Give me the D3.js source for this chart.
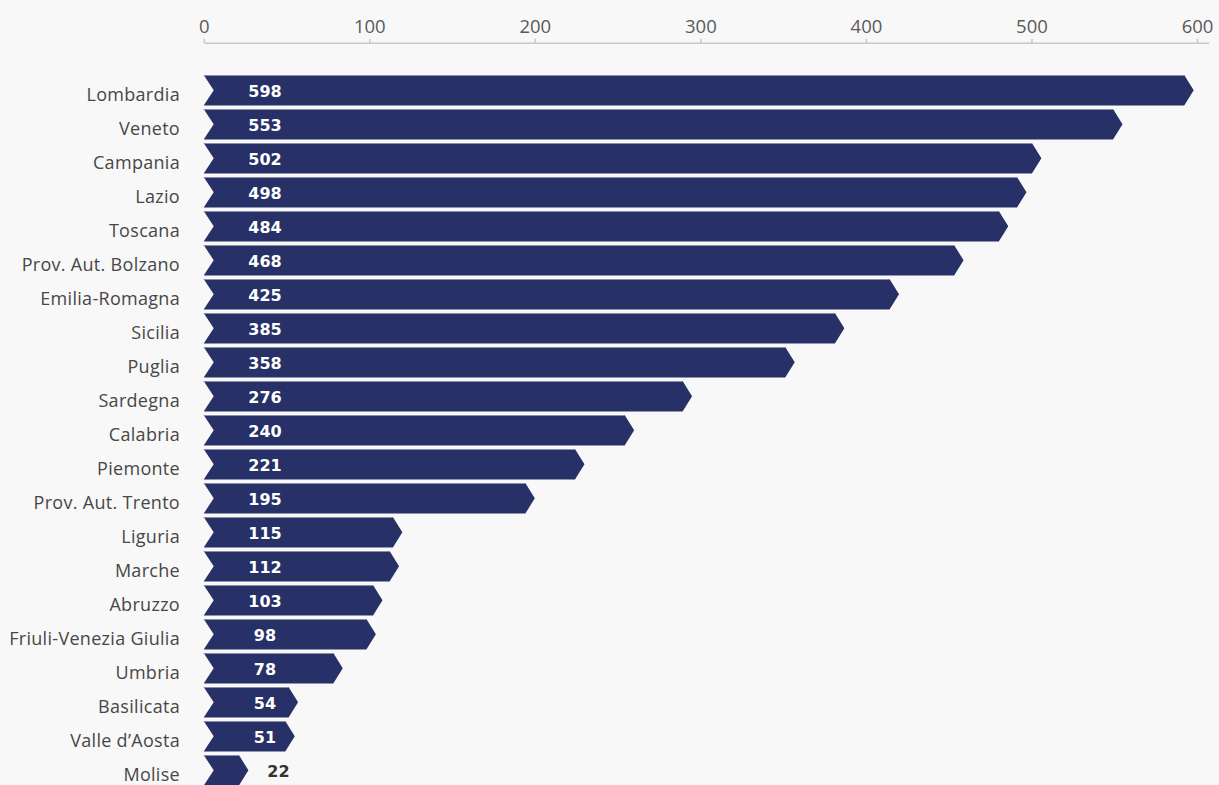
<!DOCTYPE html>
<html>
<head>
<meta charset="utf-8">
<script src="https://cdn.jsdelivr.net/npm/d3@7"></script>
<style>
  html, body { margin: 0; padding: 0; background: #f8f8f8; }
  svg { display: block; }
  .cat { font-family: "Open Sans", Lato, sans-serif; font-size: 18px; letter-spacing: 0.3px; fill: #474747; }
  .val { font-family: "DejaVu Sans", sans-serif; font-size: 16px; font-weight: bold; }
  .axis text { font-family: "Open Sans", Lato, sans-serif; font-size: 18.5px; fill: #5a5a5a; }
  .axis path, .axis line { stroke: #c8c8c8; stroke-width: 1.5; }
</style>
</head>
<body>
<div id="chart"></div>
<script>
// Regions, in display order
var categories = ["Lombardia", "Veneto", "Campania", "Lazio", "Toscana", "Prov. Aut. Bolzano",
  "Emilia-Romagna", "Sicilia", "Puglia", "Sardegna", "Calabria", "Piemonte", "Prov. Aut. Trento",
  "Liguria", "Marche", "Abruzzo", "Friuli-Venezia Giulia", "Umbria", "Basilicata",
  "Valle d\u2019Aosta", "Molise"];

// Printed values
var values = [598, 553, 502, 498, 484, 468, 425, 385, 358, 276, 240, 221, 195,
  115, 112, 103, 98, 78, 54, 51, 22];

// Bar ends as drawn in the picture (do not always match the printed value)
var barLengths = [598, 555, 506, 497, 486, 459, 420, 387, 357, 295, 260, 230, 200,
  120, 118, 108, 104, 84, 57, 55, 27];

var tickValues = [0, 100, 200, 300, 400, 500, 600];

var WIDTH = 1219, HEIGHT = 785;
var CHEVRON_TIP = 9.5, CHEVRON_NOTCH = 10;

var svg = d3.select("#chart").append("svg")
    .attr("width", WIDTH)
    .attr("height", HEIGHT)

var x = d3.scaleLinear().domain([0, 607]).range([203.7, 1208.6]);
var y = d3.scaleBand().domain(categories).range([75, 75 + 34 * 20.9]).paddingInner(0.1).paddingOuter(0);

// Axis on top
svg.append("g")
    .attr("class", "axis")
    .attr("transform", "translate(0,42.7)")
    .call(d3.axisTop(x).tickValues(tickValues).tickSize(4).tickSizeOuter(0).tickPadding(6));

var rows = svg.selectAll("g.row")
    .data(categories.map(function(c, i) { return {name: c, value: values[i], len: barLengths[i]}; }))
    .enter()
    .append("g")
    .attr("class", "row")
    .attr("transform", function(d) { return "translate(0," + y(d.name) + ")"; })

var h = y.bandwidth();

rows.append("path")
    .attr("fill", "#273168")
    .attr("d", function(d) {
        var x0 = x(0), x1 = x(d.len);
        return "M " + x0 + " 0 L " + (x1 - CHEVRON_TIP) + " 0 L " + x1 + " " + h/2 +
               " L " + (x1 - CHEVRON_TIP) + " " + h + " L " + x0 + " " + h +
               " L " + (x0 + CHEVRON_NOTCH) + " " + h/2 + " Z";
    })

// faint highlight along the top edge
rows.append("line")
    .attr("x1", x(0))
    .attr("x2", function(d) { return x(d.len) - CHEVRON_TIP; })
    .attr("y1", 0.5)
    .attr("y2", 0.5)
    .attr("stroke", "#8a8eab")
    .attr("stroke-width", 1)

rows.append("text")
    .attr("class", "cat")
    .attr("x", 180)
    .attr("y", h/2 + 10.5)
    .attr("text-anchor", "end")
    .text(function(d) { return d.name; })

// value labels: inside the bar, or past the tip when the bar is too short
rows.append("text")
    .attr("class", "val")
    .attr("y", h/2 + 7)
    .attr("text-anchor", "middle")
    .attr("x", function(d) {
        return (x(d.len) - CHEVRON_TIP < 285) ? x(d.len) + 30 : 265;
    })
    .attr("fill", function(d) { return (x(d.len) - CHEVRON_TIP < 285) ? "#333" : "#fff"; })
    .text(function(d) { return d.value; })
</script>
</body>
</html>
